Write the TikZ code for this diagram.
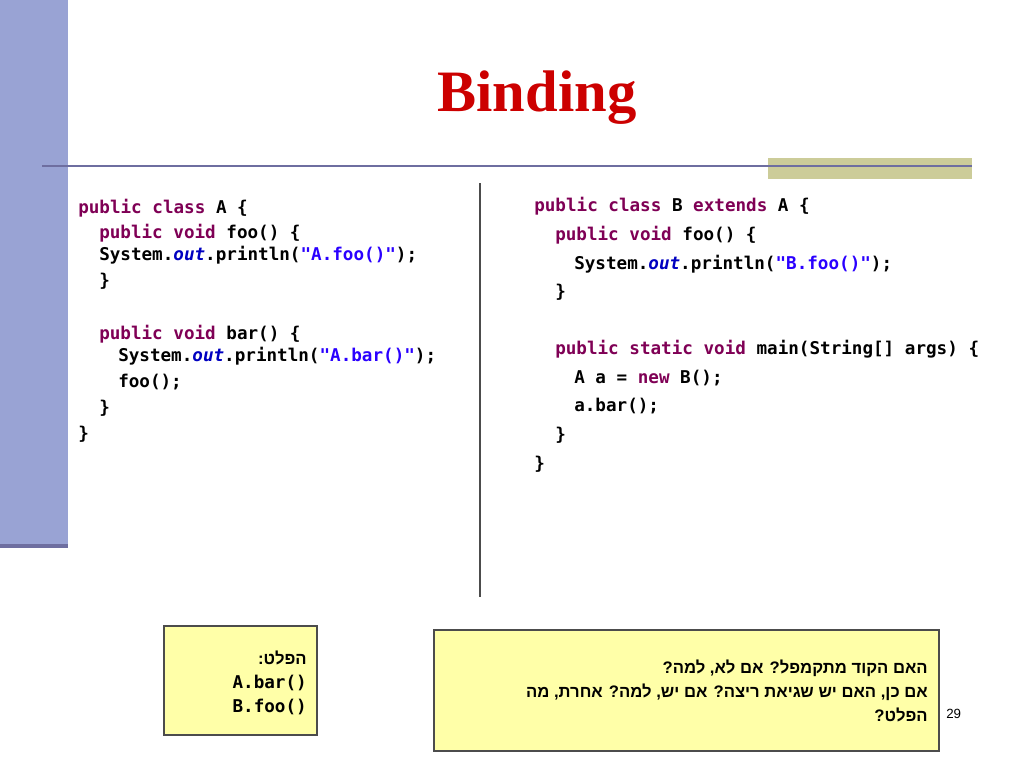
\documentclass[tikz,border=0pt]{standalone}
\usepackage{fontspec}
\TeXXeTstate=1
\newfontfamily\codefont{DejaVu Sans Mono}
\newfontfamily\hebfont[Script=Hebrew]{Liberation Sans}
\newfontfamily\titlefont{Liberation Serif}
\newfontfamily\plainsans{Liberation Sans}
\definecolor{kw}{HTML}{7F0055}
\definecolor{str}{HTML}{2A00FF}
\definecolor{fld}{HTML}{0000C0}
\definecolor{barblue}{HTML}{99A3D4}
\definecolor{lineblue}{HTML}{6E6EA0}
\definecolor{olive}{HTML}{CCCC99}
\definecolor{note}{HTML}{FFFFA8}
\newcommand{\kw}[1]{\textcolor{kw}{#1}}
\newcommand{\st}[1]{\textcolor{str}{#1}}
\newcommand{\fo}{\textcolor{fld}{\itshape out}}
\begin{document}
\begin{tikzpicture}[x=0.75pt,y=-0.75pt,
  code/.style={anchor=base west,inner sep=0pt,font=\codefont\bfseries\fontsize{13.2}{15}\selectfont},
  heb/.style={anchor=base east,inner sep=0pt,font=\hebfont\bfseries\fontsize{12.5}{15}\selectfont},
  notebox/.style={draw=black!70,fill=note,line width=0.8pt}]
\useasboundingbox (0,0) rectangle (1024,768);
\fill[barblue] (0,0) rectangle (68,548);
\fill[lineblue] (0,544) rectangle (68,548);
\fill[olive] (768,158) rectangle (972,179);
\draw[lineblue,line width=2.2pt] (42,166) -- (972,166);
\node[inner sep=0pt,text=red!80!black,font=\titlefont\bfseries\fontsize{44}{50}\selectfont] (title) at (537,98) {Binding};
\draw[black!70,line width=1pt] (480,183) -- (480,597);
% class A
\node[code] (a1) at (78,213) {\kw{public class} A \{};
\node[code] (a2) at (99,238) {\kw{public void} foo() \{};
\node[code] (a3) at (99,260) {System.\fo.println(\st{"A.foo()"});};
\node[code] (a4) at (99,286) {\}};
\node[code] (a5) at (99,339) {\kw{public void} bar() \{};
\node[code] (a6) at (118,361) {System.\fo.println(\st{"A.bar()"});};
\node[code] (a7) at (118,387) {foo();};
\node[code] (a8) at (99,413) {\}};
\node[code] (a9) at (78,439) {\}};
% class B
\node[code] (b1) at (534,211) {\kw{public class} B \kw{extends} A \{};
\node[code] (b2) at (555,240) {\kw{public void} foo() \{};
\node[code] (b3) at (574,269) {System.\fo.println(\st{"B.foo()"});};
\node[code] (b4) at (555,297) {\}};
\node[code] (b5) at (555,354) {\kw{public static void} main(String[] args) \{};
\node[code] (b6) at (574,383) {A a = \kw{new} B();};
\node[code] (b7) at (574,411) {a.bar();};
\node[code] (b8) at (555,440) {\}};
\node[code] (b9) at (534,469) {\}};
% output box
\draw[notebox] (164,626) rectangle (317,735);
\node[heb] (o1) at (307,664) {\beginR הפלט:\endR};
\node[code,anchor=base east] (o2) at (307,688) {A.bar()};
\node[code,anchor=base east] (o3) at (307,712) {B.foo()};
% question box
\draw[notebox] (434,630) rectangle (939,751);
\node[heb] (q1) at (928,673) {\beginR האם הקוד מתקמפל? אם לא, למה?\endR};
\node[heb] (q2) at (928,697) {\beginR אם כן, האם יש שגיאת ריצה? אם יש, למה? אחרת, מה\endR};
\node[heb] (q3) at (928,721) {\beginR הפלט?\endR};
\node[anchor=base west,inner sep=0pt,font=\plainsans\fontsize{10}{12}\selectfont] (pg) at (946,718) {29};
\end{tikzpicture}
\end{document}
